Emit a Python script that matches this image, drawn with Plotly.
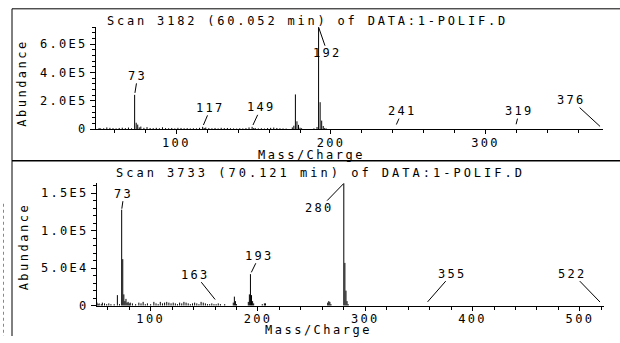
import plotly.graph_objects as go

# ---------------- data ----------------
# Scan 3182 (60.052 min)
top_mz = [50, 51, 53, 55, 57, 59, 61, 63, 65, 67, 69, 71, 73, 74, 75, 76, 77, 79, 81, 83,
          85, 87, 89, 91, 93, 95, 97, 99, 101, 103, 105, 107, 109, 111, 113, 115, 117, 118,
          119, 121, 123, 125, 127, 129, 131, 133, 135, 137, 139, 141, 143, 145, 147, 149,
          150, 151, 153, 155, 157, 159, 161, 163, 165, 167, 169, 171, 175, 176, 177, 178,
          179, 180, 181, 189, 191, 192, 193, 194, 195, 196, 197]
top_ab = [8e3, 5e3, 6e3, 1.2e4, 9e3, 7e3, 5e3, 8e3, 1.0e4, 7e3, 1.1e4, 6e3, 2.42e5, 4.5e4,
          3.2e4, 1.2e4, 1.8e4, 9e3, 1.4e4, 8e3, 7e3, 9e3, 6e3, 1.3e4, 7e3, 6e3, 8e3, 5e3,
          9e3, 8e3, 6e3, 7e3, 5e3, 6e3, 5e3, 9e3, 1.6e4, 8e3, 1.1e4, 7e3, 6e3, 8e3, 5e3,
          9e3, 7e3, 8e3, 6e3, 5e3, 4e3, 6e3, 5e3, 7e3, 1.2e4, 1.6e4, 7e3, 8e3, 5e3, 6e3,
          4e3, 7e3, 9e3, 1.1e4, 8e3, 6e3, 5e3, 4e3, 1.2e4, 2.4e4, 2.45e5, 5.5e4, 3.0e4,
          1.0e4, 6e3, 5e3, 1.5e4, 7.2e5, 1.9e5, 6.0e4, 2.2e4, 8e3, 4e3]

# Scan 3733 (70.121 min)
bot_mz = [50, 51, 52, 54, 55, 57, 59, 61, 63, 66, 69, 71, 73, 74, 75, 76, 77, 78, 79, 80,
          81, 83, 86, 89, 91, 93, 95, 97, 100, 103, 105, 107, 109, 111, 113, 115, 117, 119,
          121, 123, 125, 127, 129, 131, 133, 135, 137, 139, 141, 143, 145, 147, 149, 151,
          153, 155, 157, 159, 161, 163, 165, 169, 177, 178, 179, 180, 191, 192, 193, 194,
          195, 196, 204, 206, 207, 265, 266, 267, 268, 280, 281, 282, 283, 284]
bot_ab = [4e3, 2e3, 3e3, 2e3, 4e3, 3e3, 2e3, 3e3, 2e3, 2e3, 1.4e4, 2e3, 1.28e5, 6.2e4, 1.5e4,
          6e3, 9e3, 4e3, 5e3, 3e3, 4e3, 3e3, 2e3, 4e3, 3e3, 5e3, 2e3, 3e3, 2e3, 5e3, 3e3,
          2e3, 5e3, 3e3, 4e3, 5e3, 4e3, 3e3, 4e3, 3e3, 2e3, 4e3, 3e3, 5e3, 4e3, 3e3, 2e3,
          3e3, 4e3, 3e3, 2e3, 5e3, 4e3, 3e3, 2e3, 2e3, 3e3, 2e3, 2e3, 3e3, 2e3, 2e3, 4e3,
          1.2e4, 6e3, 2e3, 5e3, 1.5e4, 4.2e4, 1.4e4, 6e3, 3e3, 2e3, 3e3, 3e3, 4e3, 6e3,
          5e3, 2e3, 1.63e5, 5.7e4, 2.0e4, 6e3, 2e3]

top_labels = [73, 117, 149, 192, 241, 319, 376]
bot_labels = [73, 163, 193, 280, 355, 522]

top_title = "Scan 3182 (60.052 min) of DATA:1-POLIF.D"
bot_title = "Scan 3733 (70.121 min) of DATA:1-POLIF.D"

top_xticks = [100, 200, 300]
top_yticks = [0, 2e5, 4e5, 6e5]
top_yticktext = ["0", "2.0E5", "4.0E5", "6.0E5"]
bot_xticks = [100, 200, 300, 400, 500]
bot_yticks = [0, 5e4, 1e5, 1.5e5]
bot_yticktext = ["0", "5.0E4", "1.0E5", "1.5E5"]

top_xrange = [48, 376]
top_yrange = [0, 7.2e5]
bot_xrange = [50, 522]
bot_yrange = [0, 1.63e5]

# ---------------- helpers ----------------
W, H = 620, 343
FONT = "DejaVu Sans Mono"


def px(x):
    return x / W


def py(y):
    return 1 - y / H


def sp(text, ls=2.3):
    return '<span style="letter-spacing:%.1fpx">%s</span>' % (ls, text)


def sticks(mz, ab):
    xs, ys = [], []
    for m, a in zip(mz, ab):
        xs += [m, m, None]
        ys += [0, a, None]
    return xs, ys


fig = go.Figure()
tx, ty = sticks(top_mz, top_ab)
bx, by = sticks(bot_mz, bot_ab)
fig.add_trace(go.Scatter(x=tx, y=ty, mode="lines", line=dict(color="black", width=1),
                         xaxis="x", yaxis="y", hoverinfo="skip", showlegend=False))
fig.add_trace(go.Scatter(x=bx, y=by, mode="lines", line=dict(color="black", width=1),
                         xaxis="x2", yaxis="y2", hoverinfo="skip", showlegend=False))

tickfont = dict(family=FONT, size=12, color="black")


def xaxis_cfg(rng, ticks, dom, anchor, minor_dt):
    return dict(range=rng, domain=dom, anchor=anchor, showline=True, linecolor="black",
                linewidth=1, ticks="outside", ticklen=4, tickcolor="black",
                tickmode="array", tickvals=ticks, ticktext=[sp(str(t)) for t in ticks],
                tickfont=tickfont, showgrid=False, zeroline=False, ticklabelstandoff=-2,
                minor=dict(tickmode="linear", tick0=0, dtick=minor_dt, ticks="outside",
                           ticklen=3, tickcolor="black", showgrid=False))


def yaxis_cfg(rng, ticks, text, dom, anchor, minor_dt):
    return dict(range=rng, domain=dom, anchor=anchor, showline=True, linecolor="black",
                linewidth=1, ticks="outside", ticklen=5, tickcolor="black",
                tickmode="array", tickvals=ticks, ticktext=[sp(t) for t in text],
                tickfont=tickfont, showgrid=False, zeroline=False,
                minor=dict(tickmode="linear", tick0=0, dtick=minor_dt, ticks="outside",
                           ticklen=3, tickcolor="black", showgrid=False))


xdom = [px(96), px(603)]
fig.update_layout(
    width=W, height=H, autosize=False,
    margin=dict(l=0, r=0, t=0, b=0, pad=0),
    paper_bgcolor="white", plot_bgcolor="white",
    font=dict(family=FONT, size=12, color="black"),
    xaxis=xaxis_cfg(top_xrange, top_xticks, xdom, "y", 20),
    yaxis=yaxis_cfg(top_yrange, top_yticks, top_yticktext,
                    [py(131.8), py(131.8 - 7.2 * 14.45)], "x", 4e4),
    xaxis2=xaxis_cfg(bot_xrange, bot_xticks, [px(97), px(603.5)], "y2", 20),
    yaxis2=yaxis_cfg(bot_yrange, bot_yticks, bot_yticktext,
                     [py(312), py(312 - 163 * 0.7653)], "x2", 1e4),
)

annotations = []
# peak labels (offsets in pixels, standoff)
top_off = {73: (3, -19, 2), 117: (8, -19, 2), 149: (9, -19.5, 2), 192: (9, 26, 0),
           241: (8, -18, 5), 319: (4.5, -18, 5), 376: (-31.5, -29, 4)}
bot_off = {73: (2.3, -16, 1), 163: (-23, -28.7, 5), 193: (9, -18.4, 2), 280: (-24, 24.7, 0),
           355: (28, -32, 5), 522: (-31, -32, 5)}

for labels, mz, ab, off, xr, yr in [(top_labels, top_mz, top_ab, top_off, "x", "y"),
                                     (bot_labels, bot_mz, bot_ab, bot_off, "x2", "y2")]:
    lookup = dict(zip(mz, ab))
    for m in labels:
        axp, ayp, so = off[m]
        annotations.append(dict(
            x=m, y=lookup.get(m, 0), xref=xr, yref=yr, text=sp(str(m)),
            showarrow=True, arrowhead=0, arrowwidth=1, arrowcolor="black",
            ax=axp, ay=ayp, standoff=so, borderpad=0,
            font=dict(family=FONT, size=12, color="black")))

# titles
annotations.append(dict(x=px(307), y=py(21), xref="paper", yref="paper", text=sp(top_title, 2.8),
                        showarrow=False, xanchor="center", yanchor="middle"))
annotations.append(dict(x=px(320), y=py(177), xref="paper", yref="paper", text=sp(bot_title, 3.0),
                        showarrow=False, xanchor="center", yanchor="middle"))
# axis titles
for (x, y) in [(311, 158.5), (318, 336.5)]:
    annotations.append(dict(x=px(x), y=py(y), xref="paper", yref="paper",
                            text=sp("Mass/Charge", 2.5), showarrow=False,
                            xanchor="center", yanchor="middle"))
for (x, y) in [(22.5, 85), (24, 251.5)]:
    annotations.append(dict(x=px(x), y=py(y), xref="paper", yref="paper",
                            text=sp("Abundance", 2.5), showarrow=False, textangle=-90,
                            xanchor="center", yanchor="middle"))

fig.update_layout(annotations=annotations)

# frame lines
shapes = [
    dict(type="line", xref="paper", yref="paper", x0=px(12), x1=1, y0=py(9), y1=py(9),
         line=dict(color="black", width=1)),
    dict(type="line", xref="paper", yref="paper", x0=px(12), x1=px(12), y0=py(9), y1=0,
         line=dict(color="black", width=1)),
    dict(type="line", xref="paper", yref="paper", x0=px(12), x1=1, y0=py(164), y1=py(164),
         line=dict(color="black", width=1.5)),
    dict(type="line", xref="paper", yref="paper", x0=px(3.5), x1=px(3.5), y0=py(208), y1=0,
         line=dict(color="#888888", width=1, dash="dot")),
]
fig.update_layout(shapes=shapes)

fig.write_html("out.html", config={"displayModeBar": False},
               post_script="document.body.style.margin='0';document.body.style.overflow='hidden';")
